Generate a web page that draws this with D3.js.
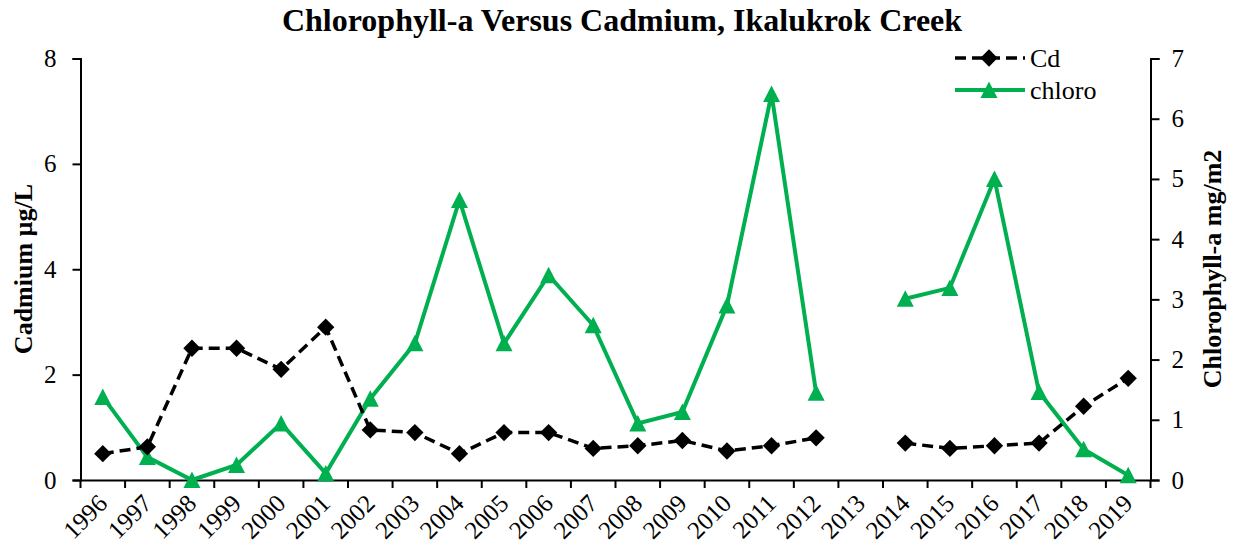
<!DOCTYPE html>
<html>
<head>
<meta charset="utf-8">
<script src="https://cdn.jsdelivr.net/npm/d3@7"></script>
<style>
  body { margin: 0; background: #fff; }
  text { font-family: "Liberation Serif", "Times New Roman", serif; }
</style>
</head>
<body>
<div id="chart"></div>
<script>
  // data
  var years = ["1996","1997","1998","1999","2000","2001","2002","2003","2004","2005","2006","2007",
               "2008","2009","2010","2011","2012","2013","2014","2015","2016","2017","2018","2019"];
  var cdValues = [0.5, 0.63, 2.5, 2.5, 2.1, 2.9, 0.95, 0.9, 0.5, 0.9, 0.9, 0.6,
                  0.65, 0.75, 0.55, 0.65, 0.8, null, 0.7, 0.6, 0.65, 0.7, 1.4, 1.93];
  var chloroValues = [1.38, 0.38, 0, 0.25, 0.94, 0.11, 1.35, 2.27, 4.65, 2.27, 3.4, 2.57,
                      0.94, 1.13, 2.9, 6.41, 1.45, null, 3.01, 3.19, 5.0, 1.46, 0.51, 0.08];
  var leftTicks = [0, 2, 4, 6, 8];
  var rightTicks = [0, 1, 2, 3, 4, 5, 6, 7];

  var green = "#00b050";

  var svg = d3.select("#chart")
    .append("svg")
    .attr("width", 1234)
    .attr("height", 548);

  var x = d3.scaleBand().domain(years).range([80.5, 1150.5]);
  var yL = d3.scaleLinear().domain([0, 8]).range([480, 58.5]);
  var yR = d3.scaleLinear().domain([0, 7]).range([480, 58.5]);
  var cx = function(i){ return x(years[i]) + x.bandwidth()/2; };

  // title
  svg.append("text")
    .attr("x", 622)
    .attr("y", 31)
    .attr("text-anchor", "middle")
    .style("font-size", "32px")
    .style("font-weight", "bold")
    .text("Chlorophyll-a Versus Cadmium, Ikalukrok Creek");

  // left axis
  var gL = svg.append("g")
    .attr("transform", "translate(80.5,0)")
    .call(d3.axisLeft(yL).tickValues(leftTicks).tickSize(8).tickPadding(16));
  // right axis
  var gR = svg.append("g")
    .attr("transform", "translate(1150.5,0)")
    .call(d3.axisRight(yR).tickValues(rightTicks).tickFormat(d3.format("d")).tickSize(9).tickPadding(12));

  [gL, gR].forEach(function(g){
    g.select(".domain").attr("stroke", "#000").attr("stroke-width", 2);
    g.selectAll(".tick line").attr("stroke", "#000").attr("stroke-width", 2);
    g.selectAll(".tick text")
      .attr("fill", "#000")
      .style("font-family", "'Liberation Serif', serif")
      .style("font-size", "25px");
  });

  // x axis
  var gX = svg.append("g")
    .attr("transform", "translate(0,480)")
    .call(d3.axisBottom(x).tickSize(0).tickSizeOuter(0));
  gX.select(".domain").attr("stroke", "#000").attr("stroke-width", 2);
  gX.selectAll(".tick text")
    .attr("fill", "#000")
    .style("font-family", "'Liberation Serif', serif")
    .style("font-size", "25px")
    .attr("text-anchor", "end")
    .attr("y", 0)
    .attr("dy", 0)
    .attr("transform", "translate(6,25) rotate(-45)");

  var bounds = years.map(function(d){ return x(d); }).concat([x.range()[1]]);
  gX.selectAll(".bound")
    .data(bounds)
    .enter()
    .append("line")
    .attr("x1", function(d){ return d; })
    .attr("x2", function(d){ return d; })
    .attr("y1", 0)
    .attr("y2", 8)
    .attr("stroke", "#000")
    .attr("stroke-width", 2);

  // axis titles
  svg.append("text")
    .attr("transform", "translate(32,269) rotate(-90)")
    .attr("text-anchor", "middle")
    .style("font-size", "26px")
    .style("font-weight", "bold")
    .text("Cadmium µg/L");

  svg.append("text")
    .attr("transform", "translate(1221,269) rotate(-90)")
    .attr("text-anchor", "middle")
    .style("font-size", "26px")
    .style("font-weight", "bold")
    .text("Chlorophyll-a mg/m2");

  var idx = d3.range(years.length);

  // chloro line
  var lineR = d3.line()
    .defined(function(i){ return chloroValues[i] != null; })
    .x(function(i){ return cx(i); })
    .y(function(i){ return yR(chloroValues[i]); });
  svg.append("path")
    .attr("d", lineR(idx))
    .attr("fill", "none")
    .attr("stroke", green)
    .attr("stroke-width", 4);

  // cd line
  var lineL = d3.line()
    .defined(function(i){ return cdValues[i] != null; })
    .x(function(i){ return cx(i); })
    .y(function(i){ return yL(cdValues[i]); });
  svg.append("path")
    .attr("d", lineL(idx))
    .attr("fill", "none")
    .attr("stroke", "#000")
    .attr("stroke-width", 3.5)
    .attr("stroke-dasharray", "11,6");

  var triangle = "M0,-8.5L8.5,8H-8.5Z";
  var diamond = d3.symbol().type(d3.symbolSquare).size(150);

  svg.append("g")
    .selectAll("path")
    .data(idx.filter(function(i){ return chloroValues[i] != null; }))
    .enter()
    .append("path")
    .attr("d", triangle)
    .attr("fill", green)
    .attr("transform", function(i){ return "translate(" + cx(i) + "," + yR(chloroValues[i]) + ")"; });

  svg.append("g")
    .selectAll("path")
    .data(idx.filter(function(i){ return cdValues[i] != null; }))
    .enter()
    .append("path")
    .attr("d", diamond)
    .attr("fill", "#000")
    .attr("transform", function(i){ return "translate(" + cx(i) + "," + yL(cdValues[i]) + ") rotate(45)"; });

  // legend
  var legend = svg.append("g");
  legend.append("line")
    .attr("x1", 955).attr("x2", 1025).attr("y1", 58).attr("y2", 58)
    .attr("stroke", "#000").attr("stroke-width", 3.5).attr("stroke-dasharray", "11,6");
  legend.append("path")
    .attr("d", diamond)
    .attr("fill", "#000")
    .attr("transform", "translate(989,58) rotate(45)");
  legend.append("text")
    .attr("x", 1030).attr("y", 58).attr("dy", "0.35em")
    .style("font-size", "26px")
    .text("Cd");

  legend.append("line")
    .attr("x1", 955).attr("x2", 1025).attr("y1", 90).attr("y2", 90)
    .attr("stroke", green).attr("stroke-width", 4);
  legend.append("path")
    .attr("d", triangle)
    .attr("fill", green)
    .attr("transform", "translate(989,90)");
  legend.append("text")
    .attr("x", 1030).attr("y", 90).attr("dy", "0.35em")
    .style("font-size", "26px")
    .text("chloro");
</script>
</body>
</html>
